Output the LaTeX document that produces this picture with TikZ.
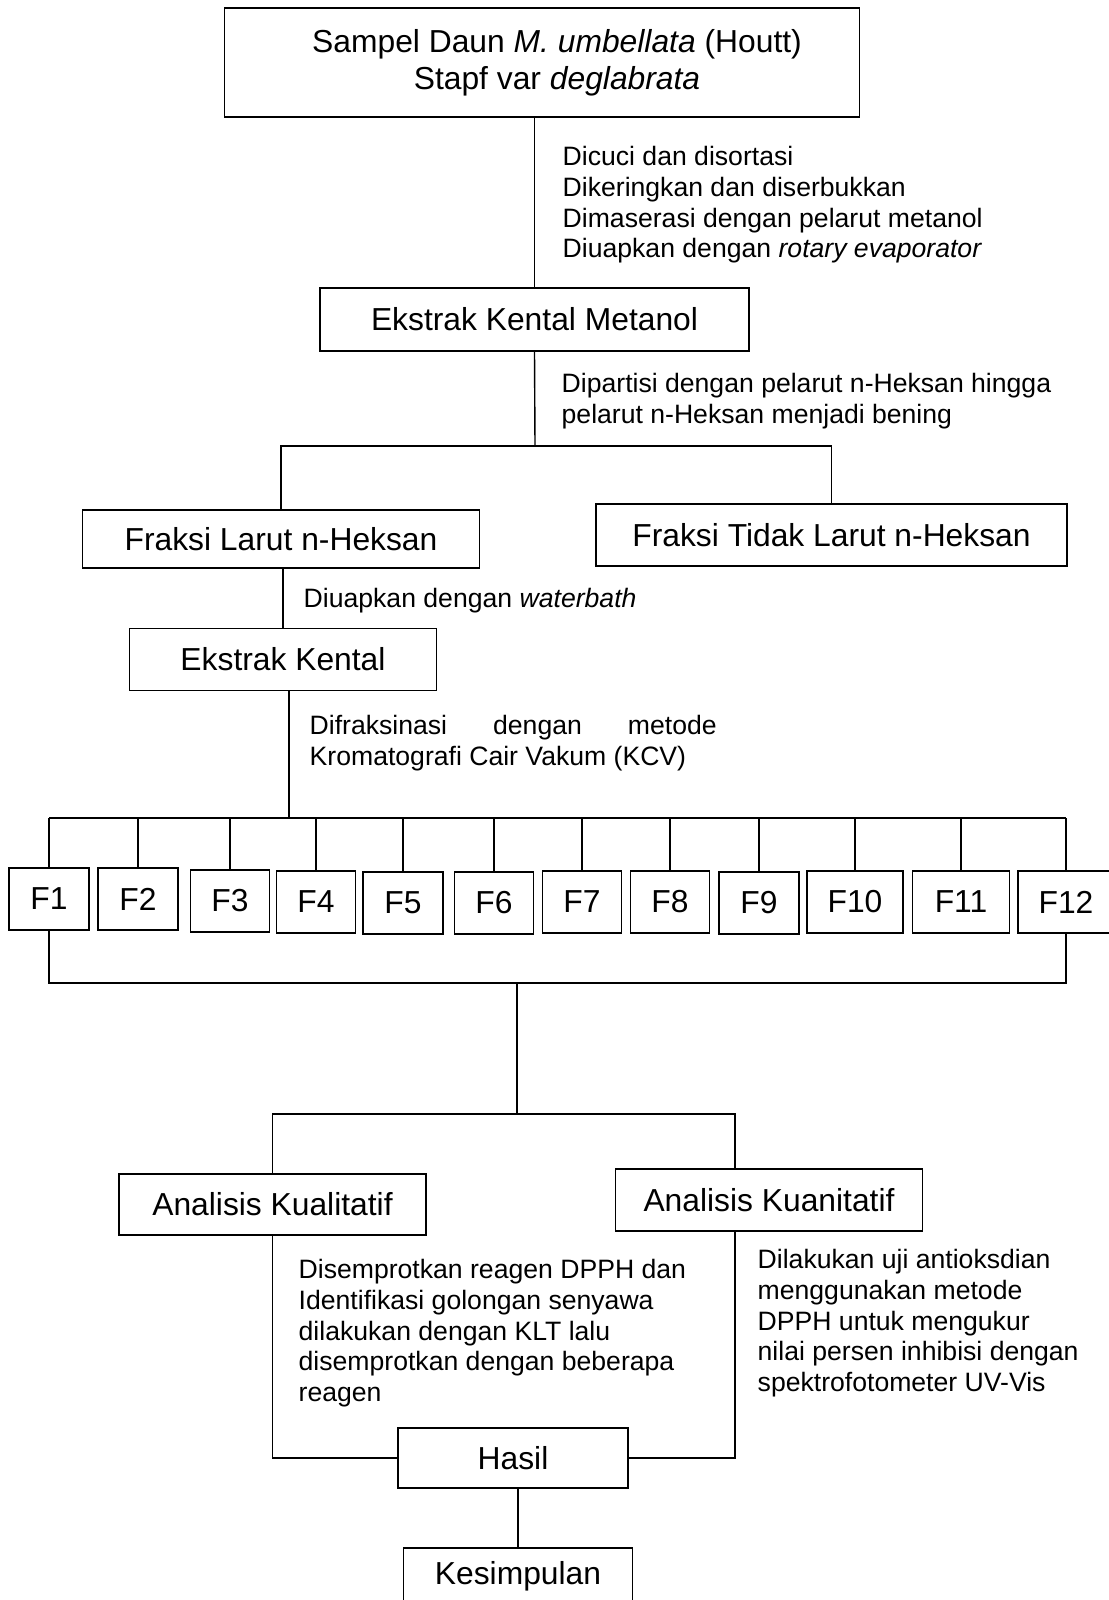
\documentclass[tikz,border=0pt]{standalone}
\usepackage{fontspec}
\setmainfont{Liberation Sans}
\newcommand{\boxfont}{\fontsize{15.9}{18.3}\selectfont}
\newcommand{\notefont}{\fontsize{13.3}{15.3}\selectfont}

\begin{document}
\begin{tikzpicture}[x=0.5pt,y=-0.5pt,line width=0.7pt,
  box/.style={draw,inner sep=0pt,font=\boxfont,align=center},
  fbox/.style={box,minimum height=31pt},
  note/.style={anchor=north west,inner sep=0pt,font=\notefont,align=left}]
  \useasboundingbox (0,0) rectangle (1108,1600);

  % main chain
  \node[box,minimum width=317.75pt,minimum height=54.5pt] (sampel) at (542,62.5)
    {\hspace*{15pt}Sampel Daun \textit{M. umbellata} (Houtt)\\\hspace*{15pt}Stapf var \textit{deglabrata}};
  \node[box,minimum width=214.5pt,minimum height=31.5pt] (ekm) at (534.5,319.5) {Ekstrak Kental Metanol};
  \node[box,minimum width=198.5pt,minimum height=29pt] (fl) at (281,539) {Fraksi Larut n-Heksan};
  \node[box,minimum width=235.5pt,minimum height=31pt] (ft) at (831.5,535) {Fraksi Tidak Larut n-Heksan};
  \node[box,minimum width=153.5pt,minimum height=31pt] (ek) at (283,659.6) {Ekstrak Kental};

  \node[note] (n1) at (562,146) {Dicuci dan disortasi\\Dikeringkan dan diserbukkan\\
    Dimaserasi dengan pelarut metanol\\Diuapkan dengan \textit{rotary evaporator}};
  \node[note] (n2) at (561,373) {Dipartisi dengan pelarut n-Heksan hingga\\pelarut n-Heksan menjadi bening};
  \node[note] (n3) at (303,588) {Diuapkan dengan \textit{waterbath}};
  \node[note] (n4) at (309,715) {\makebox[203.5pt][s]{Difraksinasi dengan metode}\\Kromatografi Cair Vakum (KCV)};

  \draw (ekm.north |- sampel.south) -- (ekm.north);
  \coordinate (split1) at (535,446);
  \draw (ekm.south) -- (split1);
  \draw (fl.north) -- (fl.north |- split1) -- (ft.north |- split1) -- (ft.north);
  \draw (ek.north |- fl.south) -- (ek.north);

  % fractions
  \foreach \i/\cx/\cy/\w in {1/49/899/80, 2/138/899/80, 3/230/901/79, 4/316/902/79,
      5/403/903/80, 6/494/903/79, 7/582/902/79, 8/670/902/79, 9/759/903/80,
      10/855/902/96, 11/961/902/97, 12/1066/902/96}
    \node[fbox,minimum width=\w*0.5pt] (f\i) at (\cx,\cy) {F\i};

  \coordinate (bustop) at (289,818);
  \draw (bustop |- ek.south) -- (bustop);
  \draw (f1.north |- bustop) -- (f12.north |- bustop);
  \foreach \i in {1,...,12}
    \draw (f\i.north) -- (f\i.north |- bustop);

  \coordinate (busbot) at (517,983);
  \draw (f1.south) |- (f12.south |- busbot) -- (f12.south);

  % analysis
  \node[box,minimum width=153.5pt,minimum height=30.5pt] (ak) at (272.5,1204.5) {Analisis Kualitatif};
  \node[box,minimum width=153.5pt,minimum height=31pt] (an) at (769,1200) {Analisis Kuanitatif};
  \node[box,minimum width=115pt,minimum height=30pt] (hasil) at (513,1458) {Hasil};
  \node[box,minimum width=114.3pt,minimum height=28pt] (kes) at (518,1576) {Kesimpulan};

  \node[note] (n5) at (298,1259) {Disemprotkan reagen DPPH dan\\Identifikasi golongan senyawa\\
    dilakukan dengan KLT lalu\\disemprotkan dengan beberapa\\reagen};
  \node[note] (n6) at (757,1249) {Dilakukan uji antioksdian\\menggunakan metode\\
    DPPH untuk mengukur\\nilai persen inhibisi dengan\\spektrofotometer UV-Vis};

  \coordinate (split2) at (517,1114);
  \coordinate (qn) at (735,1114);
  \draw (busbot) -- (split2);
  \draw (ak.north) |- (qn) -- (qn |- an.north);
  \draw (ak.south) |- (hasil.west);
  \draw (qn |- an.south) |- (hasil.east);
  \draw (kes.north |- hasil.south) -- (kes.north);
\end{tikzpicture}
\end{document}
